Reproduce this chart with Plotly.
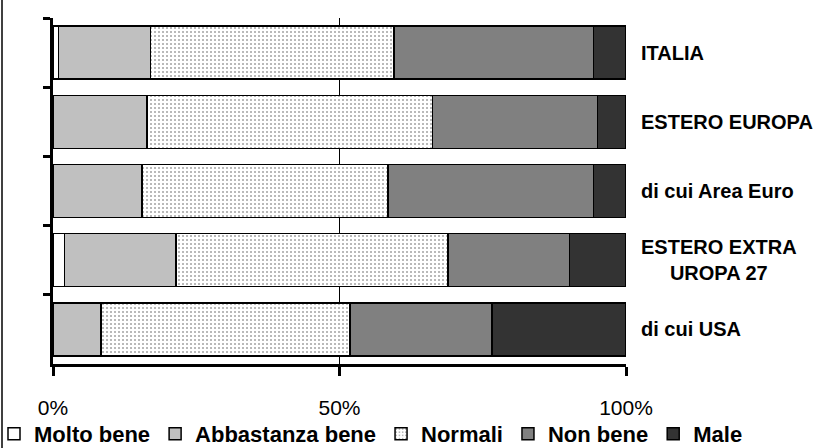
import plotly.graph_objects as go

categories = ["ITALIA", "ESTERO EUROPA", "di cui Area Euro", "ESTERO EXTRA<br>UROPA 27", "di cui USA"]
series_names = ["Molto bene", "Abbastanza bene", "Normali", "Non bene", "Male"]
molto_bene = [1.0, 0.0, 0.0, 2.0, 0.0]
abbastanza_bene = [16.0, 16.4, 15.5, 19.5, 8.4]
normali = [42.5, 49.8, 43.0, 47.4, 43.4]
non_bene = [34.8, 28.8, 35.8, 21.2, 24.8]
male = [5.7, 5.0, 5.7, 9.9, 23.4]
tick_values = [0, 50, 100]
tick_labels = ["0%", "50%", "100%"]

series_values = [molto_bene, abbastanza_bene, normali, non_bene, male]
fills = ["#FFFFFF", "#C0C0C0", "#FFFFFF", "#808080", "#333333"]

FONT = "Liberation Sans, Arial, sans-serif"

fig = go.Figure()
for name, vals, col in zip(series_names, series_values, fills):
    marker = dict(color=col, line=dict(color="black", width=1.5))
    if name == "Normali":
        marker["pattern"] = dict(shape=".", fgcolor="#444444", bgcolor="#FFFFFF",
                                 size=4, solidity=0.2, fillmode="overlay")
    fig.add_trace(go.Bar(
        name=name, y=categories, x=vals, orientation="h", marker=marker,
        hoverinfo="skip",
    ))

W, H = 817, 448
L, R, T, B = 53, 191, 18, 84
pw, ph = W - L - R, H - T - B

annotations = []
for c in categories:
    annotations.append(dict(
        x=1, xref="paper", y=c, yref="y", xshift=13, xanchor="left",
        text="<b>" + c + "</b>", showarrow=False, align="center",
        font=dict(family=FONT, size=20, color="black"),
    ))

fig.update_layout(
    width=W, height=H,
    margin=dict(l=L, r=R, t=T, b=B, autoexpand=False),
    paper_bgcolor="white", plot_bgcolor="white",
    barmode="stack", bargap=0.234,
    font=dict(family=FONT, color="black"),
    xaxis=dict(
        range=[0, 100], tickvals=tick_values, ticktext=tick_labels,
        showgrid=True, gridcolor="black", gridwidth=1, zeroline=False,
        showline=True, linecolor="black", linewidth=2.5,
        ticks="outside", ticklen=9, tickwidth=2.5, tickcolor="black",
        ticklabelstandoff=14,
        tickfont=dict(family=FONT, size=21, color="black"),
        fixedrange=True,
    ),
    yaxis=dict(
        autorange="reversed", showticklabels=False,
        showline=True, linecolor="black", linewidth=2.5,
        ticks="outside", tickson="boundaries", ticklen=7, tickwidth=2.5,
        tickcolor="black", showgrid=False, fixedrange=True,
    ),
    showlegend=True,
    legend=dict(
        orientation="h", x=(748 - L) / pw, xanchor="right",
        y=(ph - (434 - T)) / ph, yanchor="middle",
        font=dict(family=FONT, size=22, color="black", weight="bold"),
        itemwidth=30, traceorder="normal",
        bgcolor="rgba(0,0,0,0)",
    ),
    annotations=annotations,
    shapes=[dict(
        type="line", xref="paper", yref="paper",
        x0=(2 - L) / pw, x1=(2 - L) / pw,
        y0=(ph + T - H) / ph - 0.05, y1=(ph + T) / ph + 0.05,
        line=dict(color="#404040", width=2),
    )],
)

fig.write_html("out.html", config={"displayModeBar": False},
               post_script="document.body.style.margin='0px';")
